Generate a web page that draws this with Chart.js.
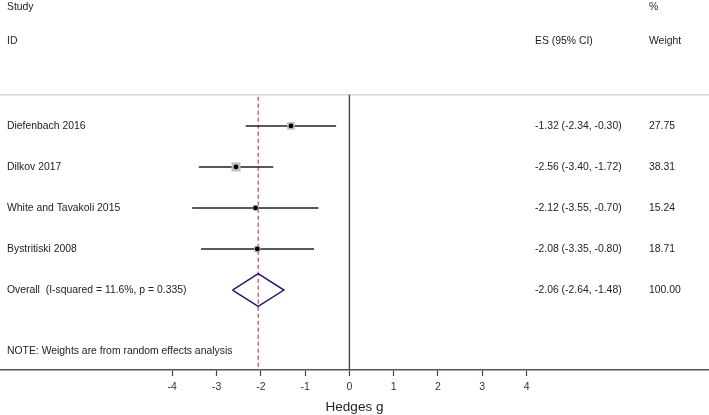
<!DOCTYPE html>
<html lang="en">
<head>
  <meta charset="UTF-8" />
  <title>Forest plot - Hedges g</title>
  <script src="https://cdn.jsdelivr.net/npm/chart.js"></script>
  <style>
    * { margin: 0; padding: 0; box-sizing: border-box; }
    body { background: #fff; width: 709px; height: 415px; overflow: hidden; }
    #forest { display: block; }
  </style>
</head>
<body>
  <canvas id="forest" width="709" height="415"></canvas>

  <script>
    // data
    const studies = ['Diefenbach 2016', 'Dilkov 2017', 'White and Tavakoli 2015', 'Bystritiski 2008'];
    const es = [-1.32, -2.56, -2.12, -2.08];
    const ciLow = [-2.34, -3.40, -3.55, -3.35];
    const ciHigh = [-0.30, -1.72, -0.70, -0.80];
    const weights = [27.75, 38.31, 15.24, 18.71];
    const overallLabel = 'Overall  (I-squared = 11.6%, p = 0.335)';
    const overallEs = [-2.06];
    const overallLow = [-2.64];
    const overallHigh = [-1.48];
    const overallWeight = [100.00];
    const xTicks = [-4, -3, -2, -1, 0, 1, 2, 3, 4];

    const textColor = '#222';
    const family = '"Liberation Sans", Arial, sans-serif';
    const font = '10.4px ' + family;
    const overallRow = studies.length + 1;
    const noteRow = overallRow + 1.5;
    const topRow = 0.24;     // light rule under the header, lines start here
    const bottomRow = 6.95;
    const xMin = -7.89, xMax = 8.12;
    const diamondHalf = 0.4; // half height of diamond in rows

    const fmt = v => v.toFixed(2);

    const datasets = [];

    // light rule under the header
    datasets.push({
      data: [{ x: xMin, y: topRow }, { x: xMax, y: topRow }],
      showLine: true, borderColor: '#d6d6d6', borderWidth: 1.3, pointRadius: 0, order: 6
    });
    // null line at 0
    datasets.push({
      data: [{ x: 0, y: topRow }, { x: 0, y: bottomRow }],
      showLine: true, borderColor: '#444', borderWidth: 1.4, pointRadius: 0, order: 5
    });
    // dashed overall line
    datasets.push({
      data: [{ x: overallEs[0], y: topRow + 0.05 }, { x: overallEs[0], y: bottomRow }],
      showLine: true, borderColor: '#a84a58', borderWidth: 1.2, borderDash: [4, 3], pointRadius: 0, order: 4
    });
    // CI lines
    studies.forEach((s, i) => {
      datasets.push({
        data: [{ x: ciLow[i], y: i + 1 }, { x: ciHigh[i], y: i + 1 }],
        showLine: true, borderColor: '#222', borderWidth: 1.4, pointRadius: 0, order: 3
      });
    });
    // weight boxes
    datasets.push({
      data: es.map((v, i) => ({ x: v, y: i + 1 })),
      pointStyle: 'rect',
      pointRadius: weights.map(w => Math.sqrt(w) * 1.45 / Math.SQRT2),
      backgroundColor: '#bdbdbd', borderWidth: 0, order: 2
    });
    // point estimates
    datasets.push({
      data: es.map((v, i) => ({ x: v, y: i + 1 })),
      pointStyle: 'circle', pointRadius: 2.4,
      backgroundColor: '#000', borderWidth: 0, order: 1
    });
    // overall diamond
    datasets.push({
      data: [
        { x: overallLow[0], y: overallRow },
        { x: overallEs[0], y: overallRow - diamondHalf },
        { x: overallHigh[0], y: overallRow },
        { x: overallEs[0], y: overallRow + diamondHalf },
        { x: overallLow[0], y: overallRow }
      ],
      showLine: true, borderColor: '#1d1d6e', borderWidth: 1.5, pointRadius: 0, order: 0
    });

    // text columns
    const textPlugin = {
      id: 'forestText',
      afterDatasetsDraw(chart) {
        const ctx = chart.ctx;
        const y = chart.scales.y;
        ctx.save();
        ctx.font = font;
        ctx.fillStyle = textColor;
        ctx.textBaseline = 'middle';
        ctx.textAlign = 'left';
        const colLabel = 7, colEs = 535, colW = 649;
        ctx.fillText('Study', colLabel, y.getPixelForValue(-1.9));
        ctx.fillText('%', colW, y.getPixelForValue(-1.9));
        ctx.fillText('ID', colLabel, y.getPixelForValue(-1.07));
        ctx.fillText('ES (95% CI)', colEs, y.getPixelForValue(-1.07));
        ctx.fillText('Weight', colW, y.getPixelForValue(-1.07));
        studies.forEach((s, i) => {
          const py = y.getPixelForValue(i + 1);
          ctx.fillText(s, colLabel, py);
          ctx.fillText(fmt(es[i]) + ' (' + fmt(ciLow[i]) + ', ' + fmt(ciHigh[i]) + ')', colEs, py);
          ctx.fillText(fmt(weights[i]), colW, py);
        });
        const oy = y.getPixelForValue(overallRow);
        ctx.fillText(overallLabel, colLabel, oy);
        ctx.fillText(fmt(overallEs[0]) + ' (' + fmt(overallLow[0]) + ', ' + fmt(overallHigh[0]) + ')', colEs, oy);
        ctx.fillText(fmt(overallWeight[0]), colW, oy);
        ctx.fillText('NOTE: Weights are from random effects analysis', colLabel, y.getPixelForValue(noteRow));
        ctx.restore();
      }
    };

    new Chart(document.getElementById('forest'), {
      type: 'scatter',
      data: { datasets },
      plugins: [textPlugin],
      options: {
        responsive: false,
        animation: false,
        layout: { padding: 0, autoPadding: false },
        plugins: { legend: { display: false }, tooltip: { enabled: false } },
        scales: {
          x: {
            type: 'linear',
            position: 'bottom',
            min: xMin,
            max: xMax,
            afterBuildTicks: scale => { scale.ticks = xTicks.map(v => ({ value: v })); },
            afterFit: scale => { scale.height = 45; },
            border: { display: true, color: '#555', width: 1.5 },
            grid: { drawOnChartArea: false, drawTicks: true, tickLength: 6, color: '#444', tickWidth: 1.2 },
            ticks: {
              autoSkip: false, maxRotation: 0, padding: 5,
              color: '#333', font: { family: family, size: 10.5 }
            },
            title: {
              display: true, text: 'Hedges g', color: '#222',
              font: { family: family, size: 13.5 },
              padding: { top: 4, bottom: 0 }
            }
          },
          y: {
            type: 'linear',
            display: false,
            reverse: true,
            min: -2.07,
            max: bottomRow
          }
        }
      }
    });
  </script>
</body>
</html>
